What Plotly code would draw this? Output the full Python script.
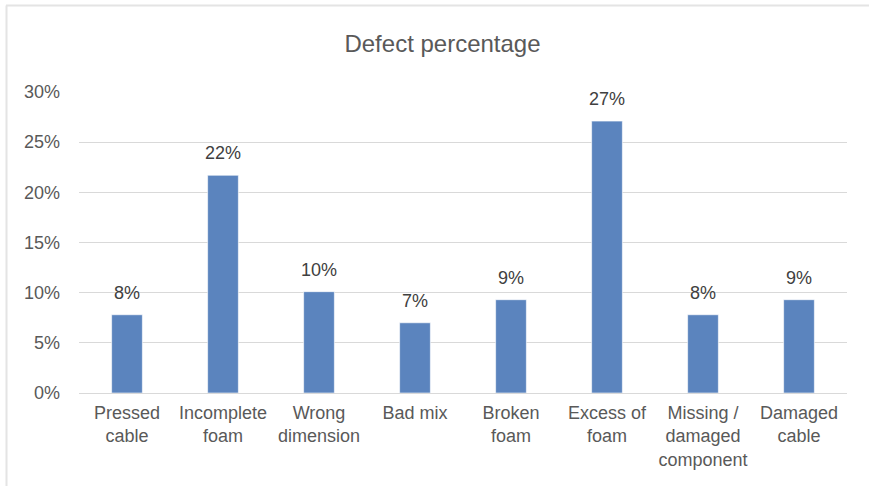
import plotly.graph_objects as go

# Defect categories and their share of all defects
categories = [
    "Pressed<br>cable",
    "Incomplete<br>foam",
    "Wrong<br>dimension",
    "Bad mix",
    "Broken<br>foam",
    "Excess of<br>foam",
    "Missing /<br>damaged<br>component",
    "Damaged<br>cable",
]
shares = [0.078, 0.217, 0.101, 0.070, 0.093, 0.271, 0.078, 0.093]
y_ticks = [0, 0.05, 0.10, 0.15, 0.20, 0.25, 0.30]

W, H = 869, 486
ML, MR, MT, MB = 79, 22, 92, 93
FONT = "Liberation Sans, Arial, sans-serif"


def px_x(px):
    """Pixel x -> plot-area paper coordinate."""
    return (px - ML) / (W - ML - MR)


def px_y(py):
    """Pixel y (from top) -> plot-area paper coordinate."""
    return (H - MB - py) / (H - MT - MB)


fig = go.Figure(
    go.Bar(
        x=categories,
        y=shares,
        marker=dict(color="#5B84BE", line=dict(color="rgba(255,255,255,0.6)", width=1)),
        width=0.32,
        hoverinfo="skip",
    )
)

# value labels above each bar
for c, v in zip(categories, shares):
    fig.add_annotation(
        x=c, y=v, xref="x", yref="y",
        text=f"{round(v * 100):.0f}%",
        showarrow=False, yanchor="middle", yshift=22,
        font=dict(family=FONT, size=18, color="#404040"),
    )

# light frame along the top and left edges
frame = "#E4E4E4"
fig.add_shape(type="line", xref="paper", yref="paper",
              x0=px_x(6), x1=px_x(869), y0=px_y(5.5), y1=px_y(5.5),
              line=dict(color=frame, width=2), layer="below")
fig.add_shape(type="line", xref="paper", yref="paper",
              x0=px_x(6.5), x1=px_x(6.5), y0=px_y(5.5), y1=px_y(490),
              line=dict(color=frame, width=2), layer="below")

fig.update_layout(
    width=W, height=H,
    margin=dict(l=ML, r=MR, t=MT, b=MB),
    paper_bgcolor="white", plot_bgcolor="white",
    showlegend=False,
    title=dict(
        text="Defect percentage",
        x=442.5 / W, xanchor="center", xref="container",
        y=1 - 44 / H, yanchor="middle", yref="container",
        font=dict(family=FONT, size=24, color="#595959"),
    ),
    font=dict(family=FONT, size=18, color="#595959"),
    xaxis=dict(
        showgrid=False, zeroline=False, showline=False,
        ticks="", ticklabelstandoff=7,
        tickfont=dict(family=FONT, size=18, color="#595959"),
    ),
    yaxis=dict(
        range=[0, 0.30],
        tickvals=y_ticks,
        tickformat=".0%",
        showgrid=True, gridcolor="#D9D9D9", gridwidth=1.2,
        zeroline=True, zerolinecolor="#D9D9D9", zerolinewidth=1.2,
        showline=False, ticks="", ticklabelstandoff=18,
        tickfont=dict(family=FONT, size=18, color="#595959"),
    ),
)

fig.write_html("out.html")
